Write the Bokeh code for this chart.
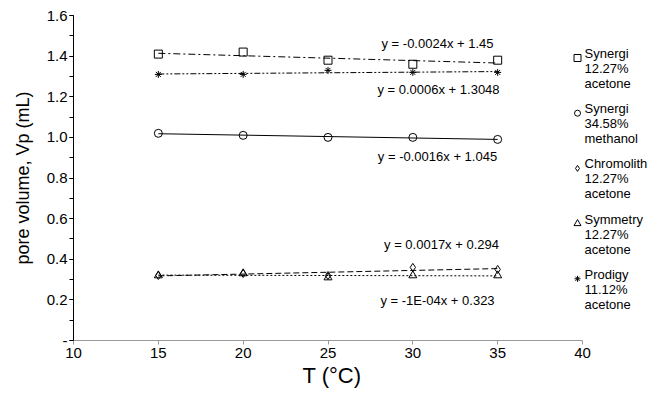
import numpy as np
from bokeh.plotting import figure
from bokeh.models import FixedTicker, NumeralTickFormatter, Label, Range1d, Title
from bokeh.core.properties import value
from bokeh.embed import file_html
from bokeh.resources import INLINE

# ---- data ----
temps = [15, 20, 25, 30, 35]
synergi_acetone = [1.41, 1.42, 1.38, 1.36, 1.38]
synergi_methanol = [1.02, 1.01, 1.00, 1.00, 0.99]
chromolith_acetone = [0.32, 0.33, 0.32, 0.36, 0.35]
symmetry_acetone = [0.32, 0.33, 0.31, 0.32, 0.32]
prodigy_acetone = [1.31, 1.31, 1.33, 1.32, 1.32]

series_names = [["Synergi", "12.27%", "acetone"],
                ["Synergi", "34.58%", "methanol"],
                ["Chromolith", "12.27%", "acetone"],
                ["Symmetry", "12.27%", "acetone"],
                ["Prodigy", "11.12%", "acetone"]]
equations = ["y = -0.0024x + 1.45", "y = -0.0016x + 1.045", "y = 0.0017x + 0.294",
             "y = -1E-04x + 0.323", "y = 0.0006x + 1.3048"]

x_ticks = [10, 15, 20, 25, 30, 35, 40]
y_ticks = [0, 0.2, 0.4, 0.6, 0.8, 1.0, 1.2, 1.4, 1.6]

# ---- layout (pixels) ----
W, H = 650, 397
LEFT, TOP, BOTTOM = 73, 15, 57
X0, X1 = 10, 40
X40_PX = 582
FONT = "Liberation Sans"

px_per_x = (X40_PX - LEFT) / (X1 - X0)
x_end = X1 + (W - X40_PX) / px_per_x
frame_h = H - TOP - BOTTOM
px_per_y = frame_h / 1.6

def px_to_x(px):
    return X0 + (px - LEFT) / px_per_x

def py_to_y(py):
    return (H - BOTTOM - py) / px_per_y

p = figure(width=W, height=H, output_backend="svg", toolbar_location=None,
           x_range=Range1d(X0, x_end), y_range=Range1d(0, 1.6),
           min_border_left=LEFT, min_border_right=0, min_border_top=TOP,
           min_border_bottom=BOTTOM)
p.outline_line_color = None
p.grid.visible = False

series = [synergi_acetone, synergi_methanol, chromolith_acetone, symmetry_acetone, prodigy_acetone]
markers = ["square", "circle", "diamond", "triangle", "asterisk"]
sizes = [8, 8, 8, 8, 7]
leg_sizes = [7, 6, 6, 7, 6]
dashes = ["7 3 2 3", "solid", "6 3", "2 2", "6 2 2 2 2 2"]

# equation label pixel positions (center)
eq_px = [(437, 43), (437, 156), (441, 244), (437, 300), (438, 89)]

xs = np.array(temps, dtype=float)
for vals, m, s, d in zip(series, markers, sizes, dashes):
    k, b = np.polyfit(xs, np.array(vals), 1)
    xl = np.array([xs.min(), xs.max()])
    p.line(xl, k * xl + b, line_color="black", line_width=1, line_dash=d)
    p.scatter(temps, vals, marker=m, size=s, fill_color="white", fill_alpha=0,
              line_color="black", line_width=1)

for t, (ex, ey) in zip(equations, eq_px):
    p.add_layout(Label(x=px_to_x(ex), y=py_to_y(ey), text=t, text_align="center",
                       text_baseline="middle", text_font=FONT, text_font_size="13px",
                       text_color="black"))

# manual legend
LEG_MARK_X, LEG_TEXT_X, LEG_Y0, LEG_STEP, LINE_STEP = 577, 584, 53, 55.2, 15
for i, (lines, m, ls) in enumerate(zip(series_names, markers, leg_sizes)):
    y_first = LEG_Y0 + i * LEG_STEP
    p.scatter([px_to_x(LEG_MARK_X)], [py_to_y(y_first + 4.5)], marker=m, size=ls,
              fill_alpha=0, line_color="black", line_width=1)
    p.text([px_to_x(LEG_TEXT_X)] * 3,
           [py_to_y(y_first + j * LINE_STEP) for j in range(3)],
           text=lines, text_font=value(FONT), text_font_size="13px",
           text_baseline="middle", text_align="left", text_color="black")

# x-axis title, left-aligned so it sits centred under the 10-40 axis
X_TITLE_LEFT_PX = 302
x_title = Title(text="T (°C)", align="left", offset=X_TITLE_LEFT_PX - LEFT,
                text_font=FONT, text_font_size="22px", text_font_style="normal",
                text_color="black", standoff=0)
p.add_layout(x_title, "below")

p.xaxis.ticker = FixedTicker(ticks=x_ticks)
p.xaxis.bounds = (X0, X1)
p.yaxis.ticker = FixedTicker(ticks=y_ticks, minor_ticks=[i / 10 for i in range(0, 17)])
p.yaxis.formatter = NumeralTickFormatter(format="0.0")
p.yaxis.major_label_overrides = {0: "-"}

for ax in (p.xaxis, p.yaxis):
    ax.major_label_text_font = FONT
    ax.major_label_text_font_size = "15px"
    ax.major_label_text_color = "black"
    ax.axis_label_text_font = FONT
    ax.axis_label_text_font_style = "normal"
    ax.axis_label_text_color = "black"
    ax.major_tick_in = 0
    ax.major_tick_out = 4
    ax.minor_tick_in = 0
    ax.minor_tick_out = 4

p.yaxis.axis_label = "pore volume, Vp (mL)"
p.yaxis.axis_label_text_font_size = "18px"
p.xaxis.axis_line_color = "#999999"
p.xaxis.major_tick_line_color = "#999999"
p.xaxis.minor_tick_line_color = None
p.yaxis.axis_line_color = "black"
p.yaxis.major_tick_line_color = "black"
p.yaxis.minor_tick_line_color = "black"
p.xaxis.major_label_standoff = 3
p.yaxis.major_label_standoff = 2
p.yaxis.axis_label_standoff = 11

open("out.html", "w").write(file_html(p, INLINE))
